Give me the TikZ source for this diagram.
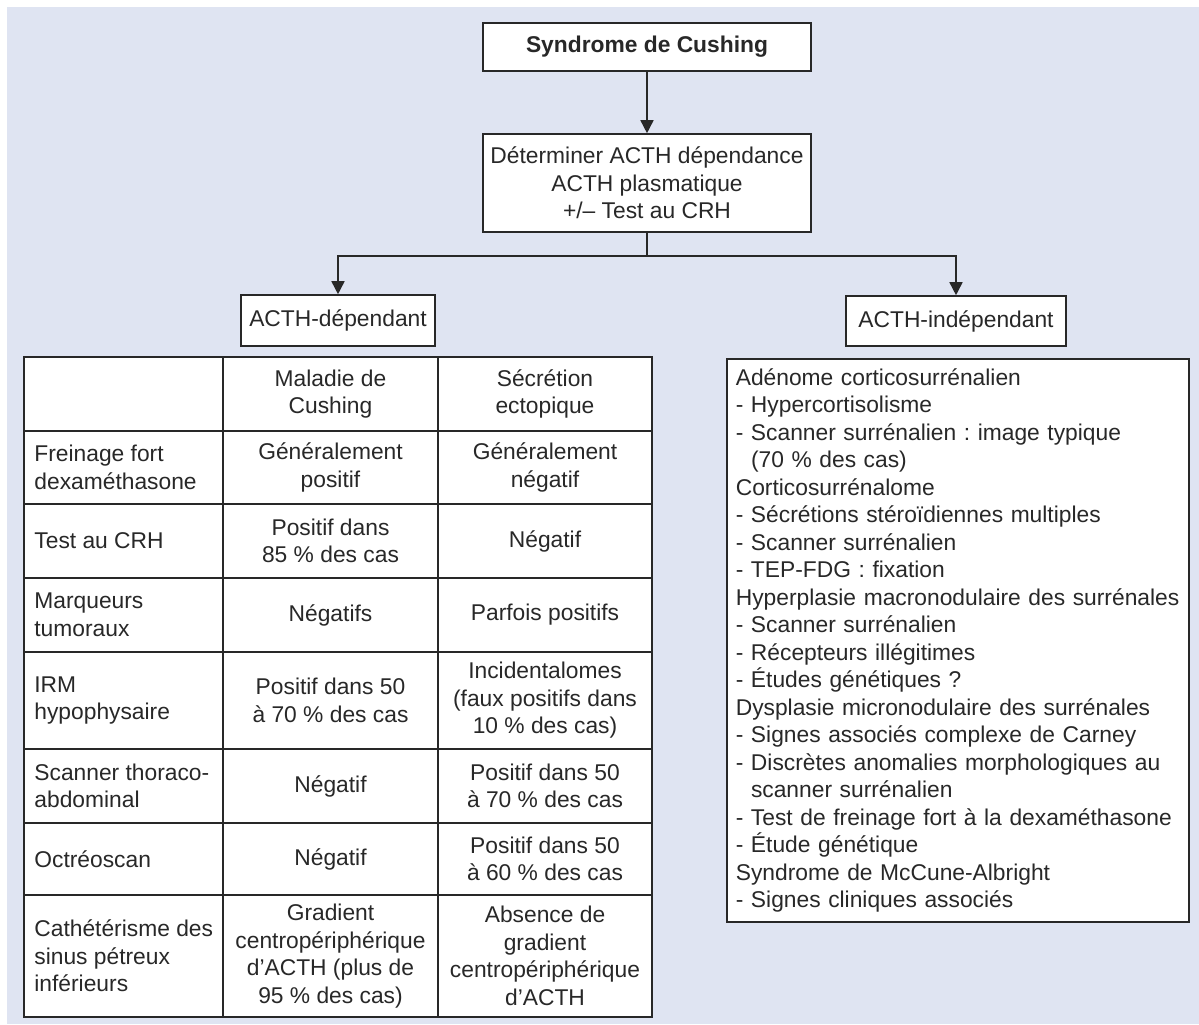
\documentclass[tikz,border=0pt]{standalone}
\usepackage{fontspec}
\setmainfont{Liberation Sans}
\usetikzlibrary{arrows.meta}
\definecolor{panelbg}{RGB}{223,228,242}
\definecolor{inkgray}{RGB}{40,40,40}
\newcommand{\diagfont}{\fontsize{11.4pt}{13.75pt}\selectfont}
\newcommand{\ind}{\hphantom{- }}
\frenchspacing
\begin{document}
\begin{tikzpicture}[x=0.5pt, y=-0.5pt, font=\diagfont, text=inkgray,
    box/.style={draw=inkgray, fill=white, line width=0.8pt, align=center, inner sep=0pt},
    link/.style={draw=inkgray, line width=0.8pt},
    arrow/.style={link, -{Triangle[length=6.5pt, width=6.5pt]}},
    rowhead/.style={anchor=west, align=left, inner sep=0pt},
    cell/.style={align=center, inner sep=0pt}]
    \useasboundingbox (0,0) rectangle (1199,1024);
    \fill[white] (0,0) rectangle (1199,1024);
    \fill[panelbg] (7,7) rectangle (1199,1024);
    % top of the tree
    \node[box, minimum width=164pt, minimum height=24pt, font=\diagfont\bfseries] (cushing) at (647,47) {Syndrome de Cushing};
    \node[box, minimum width=164pt, minimum height=49pt] (acthtest) at (647,183) {Déterminer ACTH dépendance\\ACTH plasmatique\\+/– Test au CRH};
    \coordinate (split) at (647,256);
    \node[box, minimum width=97pt, minimum height=25.5pt] (dep) at (338,320.5) {ACTH-dépendant};
    \node[box, minimum width=110pt, minimum height=25pt] (indep) at (956,321) {ACTH-indépendant};
    \draw[arrow] (cushing) -- (acthtest);
    \draw[link] (acthtest) -- (split);
    \draw[arrow] (split) -| (dep);
    \draw[arrow] (split) -| (indep);
    % table of the ACTH-dependent forms
    \draw[link, fill=white] (24,357) rectangle (652,1017);
    \foreach \y in {431,504,578,652,749,823,895}
        \draw[link] (24,\y) -- (652,\y);
    \draw[link] (223,357) -- (223,1017);
    \draw[link] (438,357) -- (438,1017);
    \node[cell] (hmal) at (330.5,394) {Maladie de\\Cushing};
    \node[cell] (hect) at (545,394) {Sécrétion\\ectopique};
    \node[rowhead] (frein) at (34,467.5) {Freinage fort\\dexaméthasone};
    \node[cell] (freinmal) at (330.5,467.5) {Généralement\\positif};
    \node[cell] (freinect) at (545,467.5) {Généralement\\négatif};
    \node[rowhead] (crh) at (34,541) {Test au CRH};
    \node[cell] (crhmal) at (330.5,541) {Positif dans\\85 \% des cas};
    \node[cell] (crhect) at (545,541) {Négatif};
    \node[rowhead] (marq) at (34,615) {Marqueurs\\tumoraux};
    \node[cell] (marqmal) at (330.5,615) {Négatifs};
    \node[cell] (marqect) at (545,615) {Parfois positifs};
    \node[rowhead] (irm) at (34,700.5) {IRM\\hypophysaire};
    \node[cell] (irmmal) at (330.5,700.5) {Positif dans 50\\à 70 \% des cas};
    \node[cell] (irmect) at (545,700.5) {Incidentalomes\\(faux positifs dans\\10 \% des cas)};
    \node[rowhead] (scan) at (34,786) {Scanner thoraco-\\abdominal};
    \node[cell] (scanmal) at (330.5,786) {Négatif};
    \node[cell] (scanect) at (545,786) {Positif dans 50\\à 70 \% des cas};
    \node[rowhead] (octreo) at (34,859) {Octréoscan};
    \node[cell] (octreomal) at (330.5,859) {Négatif};
    \node[cell] (octreoect) at (545,859) {Positif dans 50\\à 60 \% des cas};
    \node[rowhead] (sinus) at (34,956) {Cathétérisme des\\sinus pétreux\\inférieurs};
    \node[cell] (sinusmal) at (330.5,956) {Gradient\\centropériphérique\\d’ACTH (plus de\\95 \% des cas)};
    \node[cell] (sinusect) at (545,956) {Absence de\\gradient\\centropériphérique\\d’ACTH};
    % list of the ACTH-independent forms
    \node[box, anchor=north west, minimum width=231pt, minimum height=281.5pt,
        text width=222pt, align=left] (indeplist) at (726,358) {Adénome corticosurrénalien\\
        - Hypercortisolisme\\
        - Scanner surrénalien : image typique\\
        \ind(70 \% des cas)\\
        Corticosurrénalome\\
        - Sécrétions stéroïdiennes multiples\\
        - Scanner surrénalien\\
        - TEP-FDG : fixation\\
        Hyperplasie macronodulaire des surrénales\\
        - Scanner surrénalien\\
        - Récepteurs illégitimes\\
        - Études génétiques ?\\
        Dysplasie micronodulaire des surrénales\\
        - Signes associés complexe de Carney\\
        - Discrètes anomalies morphologiques au\\
        \ind scanner surrénalien\\
        - Test de freinage fort à la dexaméthasone\\
        - Étude génétique\\
        Syndrome de McCune-Albright\\
        - Signes cliniques associés};
\end{tikzpicture}
\end{document}
